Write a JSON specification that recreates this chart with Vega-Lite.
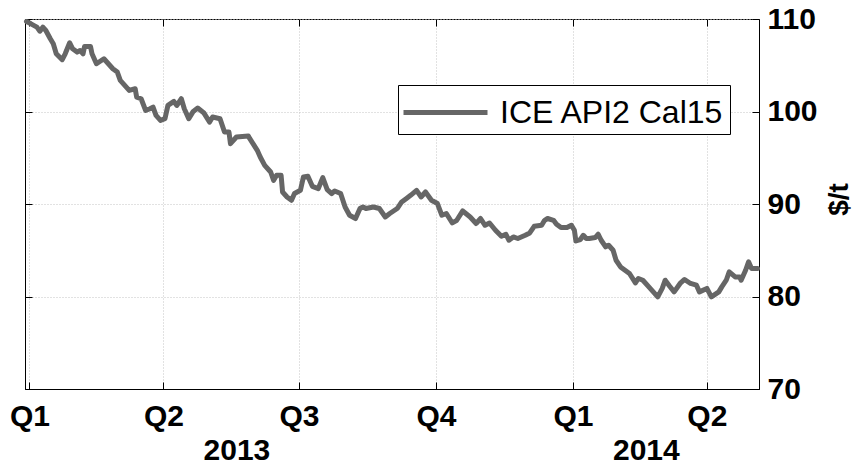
{
  "$schema": "https://vega.github.io/schema/vega-lite/v6.json",
  "width": 734,
  "height": 370,
  "autosize": {"type": "none"},
  "padding": {"left": 25, "top": 19, "right": 93, "bottom": 77},
  "background": "white",
  "config": {"view": {"stroke": "black", "strokeWidth": 1}, "font": "Liberation Sans"},
  "datasets": {
    "d": [
      {"date": "2012-12-30", "price": 109.73},
      {"date": "2013-01-02", "price": 109.48},
      {"date": "2013-01-06", "price": 109.12},
      {"date": "2013-01-08", "price": 108.68},
      {"date": "2013-01-10", "price": 109.12},
      {"date": "2013-01-12", "price": 108.76},
      {"date": "2013-01-15", "price": 107.86},
      {"date": "2013-01-17", "price": 107.32},
      {"date": "2013-01-19", "price": 106.24},
      {"date": "2013-01-23", "price": 105.6},
      {"date": "2013-01-25", "price": 106.24},
      {"date": "2013-01-28", "price": 107.43},
      {"date": "2013-01-30", "price": 106.78},
      {"date": "2013-02-02", "price": 106.42},
      {"date": "2013-02-04", "price": 106.6},
      {"date": "2013-02-06", "price": 106.24},
      {"date": "2013-02-07", "price": 107.03},
      {"date": "2013-02-11", "price": 107.03},
      {"date": "2013-02-12", "price": 106.24},
      {"date": "2013-02-15", "price": 105.16},
      {"date": "2013-02-20", "price": 105.7},
      {"date": "2013-02-23", "price": 105.16},
      {"date": "2013-02-26", "price": 104.62},
      {"date": "2013-03-01", "price": 104.26},
      {"date": "2013-03-03", "price": 103.36},
      {"date": "2013-03-06", "price": 102.82},
      {"date": "2013-03-09", "price": 102.28},
      {"date": "2013-03-13", "price": 102.46},
      {"date": "2013-03-14", "price": 101.56},
      {"date": "2013-03-17", "price": 101.38},
      {"date": "2013-03-20", "price": 100.12},
      {"date": "2013-03-23", "price": 100.3},
      {"date": "2013-03-25", "price": 100.48},
      {"date": "2013-03-27", "price": 99.58},
      {"date": "2013-03-30", "price": 99.04},
      {"date": "2013-04-02", "price": 99.22},
      {"date": "2013-04-04", "price": 100.66},
      {"date": "2013-04-08", "price": 101.09},
      {"date": "2013-04-10", "price": 100.66},
      {"date": "2013-04-13", "price": 101.38},
      {"date": "2013-04-15", "price": 100.3},
      {"date": "2013-04-18", "price": 99.22},
      {"date": "2013-04-21", "price": 100.01},
      {"date": "2013-04-24", "price": 100.37},
      {"date": "2013-04-28", "price": 99.87},
      {"date": "2013-05-02", "price": 98.86},
      {"date": "2013-05-04", "price": 99.4},
      {"date": "2013-05-09", "price": 99.22},
      {"date": "2013-05-12", "price": 97.78},
      {"date": "2013-05-15", "price": 97.78},
      {"date": "2013-05-16", "price": 96.52},
      {"date": "2013-05-20", "price": 97.24},
      {"date": "2013-05-28", "price": 97.35},
      {"date": "2013-05-29", "price": 97.06},
      {"date": "2013-06-03", "price": 95.8},
      {"date": "2013-06-05", "price": 95.08},
      {"date": "2013-06-08", "price": 94.18},
      {"date": "2013-06-12", "price": 93.46},
      {"date": "2013-06-14", "price": 92.56},
      {"date": "2013-06-16", "price": 93.1},
      {"date": "2013-06-19", "price": 93.1},
      {"date": "2013-06-20", "price": 91.3},
      {"date": "2013-06-23", "price": 90.76},
      {"date": "2013-06-26", "price": 90.4},
      {"date": "2013-06-28", "price": 91.13},
      {"date": "2013-07-02", "price": 91.48},
      {"date": "2013-07-04", "price": 92.92},
      {"date": "2013-07-07", "price": 92.99},
      {"date": "2013-07-10", "price": 91.91},
      {"date": "2013-07-14", "price": 91.67},
      {"date": "2013-07-17", "price": 92.85},
      {"date": "2013-07-20", "price": 91.56},
      {"date": "2013-07-23", "price": 91.13},
      {"date": "2013-07-25", "price": 91.41},
      {"date": "2013-07-29", "price": 91.13},
      {"date": "2013-08-01", "price": 89.68},
      {"date": "2013-08-04", "price": 88.78},
      {"date": "2013-08-08", "price": 88.43},
      {"date": "2013-08-11", "price": 89.51},
      {"date": "2013-08-13", "price": 89.68},
      {"date": "2013-08-15", "price": 89.51},
      {"date": "2013-08-20", "price": 89.68},
      {"date": "2013-08-24", "price": 89.51},
      {"date": "2013-08-28", "price": 88.6},
      {"date": "2013-08-31", "price": 88.97},
      {"date": "2013-09-05", "price": 89.51},
      {"date": "2013-09-08", "price": 90.22},
      {"date": "2013-09-11", "price": 90.58},
      {"date": "2013-09-14", "price": 90.94},
      {"date": "2013-09-18", "price": 91.48},
      {"date": "2013-09-21", "price": 90.76},
      {"date": "2013-09-24", "price": 91.3},
      {"date": "2013-09-28", "price": 90.4},
      {"date": "2013-10-02", "price": 90.05},
      {"date": "2013-10-05", "price": 88.78},
      {"date": "2013-10-08", "price": 88.97},
      {"date": "2013-10-12", "price": 87.95},
      {"date": "2013-10-15", "price": 88.24},
      {"date": "2013-10-19", "price": 89.25},
      {"date": "2013-10-24", "price": 88.6},
      {"date": "2013-10-28", "price": 87.89},
      {"date": "2013-10-31", "price": 88.43},
      {"date": "2013-11-03", "price": 87.7},
      {"date": "2013-11-06", "price": 87.95},
      {"date": "2013-11-10", "price": 87.16},
      {"date": "2013-11-14", "price": 86.51},
      {"date": "2013-11-17", "price": 86.73},
      {"date": "2013-11-19", "price": 86.08},
      {"date": "2013-11-22", "price": 86.44},
      {"date": "2013-11-25", "price": 86.27},
      {"date": "2013-11-30", "price": 86.62},
      {"date": "2013-12-03", "price": 86.87},
      {"date": "2013-12-06", "price": 87.59},
      {"date": "2013-12-11", "price": 87.7},
      {"date": "2013-12-13", "price": 88.24},
      {"date": "2013-12-15", "price": 88.43},
      {"date": "2013-12-19", "price": 88.24},
      {"date": "2013-12-21", "price": 87.81},
      {"date": "2013-12-24", "price": 87.45},
      {"date": "2013-12-28", "price": 87.45},
      {"date": "2013-12-31", "price": 87.7},
      {"date": "2014-01-02", "price": 87.16},
      {"date": "2014-01-03", "price": 86.01},
      {"date": "2014-01-06", "price": 86.16},
      {"date": "2014-01-08", "price": 86.62},
      {"date": "2014-01-10", "price": 86.27},
      {"date": "2014-01-12", "price": 86.27},
      {"date": "2014-01-16", "price": 86.37},
      {"date": "2014-01-18", "price": 86.73},
      {"date": "2014-01-20", "price": 86.08},
      {"date": "2014-01-23", "price": 85.36},
      {"date": "2014-01-25", "price": 85.54},
      {"date": "2014-01-28", "price": 85.0},
      {"date": "2014-01-30", "price": 83.92},
      {"date": "2014-02-02", "price": 83.2},
      {"date": "2014-02-05", "price": 82.84},
      {"date": "2014-02-08", "price": 82.49},
      {"date": "2014-02-12", "price": 81.47},
      {"date": "2014-02-14", "price": 81.95},
      {"date": "2014-02-17", "price": 81.76},
      {"date": "2014-02-21", "price": 81.04},
      {"date": "2014-02-24", "price": 80.5},
      {"date": "2014-02-27", "price": 79.96},
      {"date": "2014-03-02", "price": 80.87},
      {"date": "2014-03-04", "price": 81.76},
      {"date": "2014-03-07", "price": 81.11},
      {"date": "2014-03-10", "price": 80.5},
      {"date": "2014-03-14", "price": 81.41},
      {"date": "2014-03-17", "price": 81.84},
      {"date": "2014-03-21", "price": 81.41},
      {"date": "2014-03-25", "price": 81.22},
      {"date": "2014-03-27", "price": 80.5},
      {"date": "2014-04-01", "price": 80.87},
      {"date": "2014-04-04", "price": 79.96},
      {"date": "2014-04-09", "price": 80.5},
      {"date": "2014-04-11", "price": 81.04},
      {"date": "2014-04-14", "price": 81.76},
      {"date": "2014-04-16", "price": 82.66},
      {"date": "2014-04-20", "price": 82.12},
      {"date": "2014-04-23", "price": 82.12},
      {"date": "2014-04-24", "price": 81.76},
      {"date": "2014-04-27", "price": 82.84},
      {"date": "2014-04-29", "price": 83.74},
      {"date": "2014-05-01", "price": 83.03},
      {"date": "2014-05-05", "price": 83.03}
    ]
  },
  "data": {"name": "d"},
  "layer": [
    {
      "mark": {"type": "line", "strokeWidth": 5, "strokeJoin": "round", "strokeCap": "round"},
      "encoding": {
        "x": {
          "field": "date", "type": "temporal",
          "scale": {"type": "utc", "domain": [{"year": 2012, "month": 12, "date": 29, "utc": true}, {"year": 2014, "month": 5, "date": 6, "utc": true}]},
          "axis": {
            "orient": "bottom", "title": null,
            "values": [
              {"year": 2013, "month": 1, "date": 1, "utc": true},
              {"year": 2013, "month": 4, "date": 1, "utc": true},
              {"year": 2013, "month": 7, "date": 1, "utc": true},
              {"year": 2013, "month": 10, "date": 1, "utc": true},
              {"year": 2014, "month": 1, "date": 1, "utc": true},
              {"year": 2014, "month": 4, "date": 1, "utc": true}
            ],
            "labelExpr": "'Q' + (floor(utcmonth(datum.value) / 3) + 1)",
            "labelFlush": false, "labelOverlap": false,
            "labelFontSize": 30, "labelFontWeight": "bold", "labelColor": "black", "labelFont": "Liberation Sans",
            "labelPadding": 12, "labelAlign": "center",
            "ticks": false, "domainColor": "black",
            "grid": true, "gridColor": "#c4c4c4", "gridDash": [1, 2], "gridWidth": 1
          }
        },
        "y": {
          "field": "price", "type": "quantitative",
          "scale": {"domain": [70, 110], "nice": false, "zero": false},
          "axis": {
            "orient": "right", "values": [70, 80, 90, 100, 110],
            "labelFontSize": 30, "labelFontWeight": "bold", "labelColor": "black", "labelFont": "Liberation Sans",
            "labelPadding": 8, "labelFlush": false, "labelOverlap": false,
            "ticks": false, "domainColor": "black",
            "grid": true, "gridColor": "#c4c4c4", "gridDash": [1, 2], "gridWidth": 1,
            "title": "$/t", "titleFontSize": 28, "titleFontWeight": "bold", "titleColor": "black", "titleFont": "Liberation Sans",
            "titleAngle": 270, "titleX": 80, "titleY": 180, "titleAlign": "center", "titleBaseline": "middle"
          }
        },
        "color": {
          "datum": "ICE API2 Cal15",
          "scale": {"range": ["#666666"]},
          "legend": {
            "orient": "none", "legendX": 373, "legendY": 66, "title": null,
            "symbolType": "M-2.1,0H2.1", "symbolSize": 1600, "symbolStrokeWidth": 5,
            "symbolOffset": 20, "labelOffset": 32, "labelLimit": 500,
            "labelFontSize": 32, "labelFont": "Liberation Sans", "labelColor": "black",
            "strokeColor": "black", "fillColor": "white", "padding": 5
          }
        }
      }
    },
    {
      "mark": {"type": "line", "strokeOpacity": 0},
      "encoding": {
        "x": {
          "field": "date", "type": "temporal",
          "axis": {
            "orient": "bottom", "title": null,
            "values": [
              {"year": 2013, "month": 5, "date": 20, "utc": true},
              {"year": 2014, "month": 2, "date": 19, "utc": true}
            ],
            "labelExpr": "'' + utcyear(datum.value)",
            "labelFlush": false, "labelOverlap": false,
            "labelFontSize": 30, "labelFontWeight": "bold", "labelColor": "black", "labelFont": "Liberation Sans",
            "labelPadding": 46, "labelAlign": "center",
            "ticks": false, "domain": false, "grid": false
          }
        },
        "y": {
          "field": "price", "type": "quantitative",
          "axis": {
            "orient": "left", "values": [70, 80, 90, 100, 110], "title": null,
            "labels": false, "domain": false, "grid": false,
            "offset": -7, "tickSize": 7, "tickColor": "black"
          }
        }
      }
    },
    {
      "mark": {"type": "line", "strokeOpacity": 0},
      "encoding": {
        "x": {
          "field": "date", "type": "temporal",
          "axis": {
            "orient": "top", "title": null,
            "values": [
              {"year": 2013, "month": 1, "date": 1, "utc": true},
              {"year": 2013, "month": 4, "date": 1, "utc": true},
              {"year": 2013, "month": 7, "date": 1, "utc": true},
              {"year": 2013, "month": 10, "date": 1, "utc": true},
              {"year": 2014, "month": 1, "date": 1, "utc": true},
              {"year": 2014, "month": 4, "date": 1, "utc": true}
            ],
            "labels": false, "domain": false, "grid": false,
            "offset": -7, "tickSize": 7, "tickColor": "black"
          }
        },
        "y": {
          "field": "price", "type": "quantitative",
          "axis": {
            "orient": "right", "values": [70, 80, 90, 100, 110], "title": null,
            "labels": false, "domain": false, "grid": false,
            "offset": -7, "tickSize": 7, "tickColor": "black"
          }
        }
      }
    },
    {
      "mark": {"type": "line", "strokeOpacity": 0},
      "encoding": {
        "x": {
          "field": "date", "type": "temporal",
          "axis": {
            "orient": "bottom", "title": null,
            "values": [
              {"year": 2013, "month": 1, "date": 1, "utc": true},
              {"year": 2013, "month": 4, "date": 1, "utc": true},
              {"year": 2013, "month": 7, "date": 1, "utc": true},
              {"year": 2013, "month": 10, "date": 1, "utc": true},
              {"year": 2014, "month": 1, "date": 1, "utc": true},
              {"year": 2014, "month": 4, "date": 1, "utc": true}
            ],
            "labels": false, "domain": false, "grid": false,
            "offset": -7, "tickSize": 7, "tickColor": "black"
          }
        },
        "y": {"field": "price", "type": "quantitative", "axis": null}
      }
    }
  ],
  "resolve": {"axis": {"x": "independent", "y": "independent"}}
}
